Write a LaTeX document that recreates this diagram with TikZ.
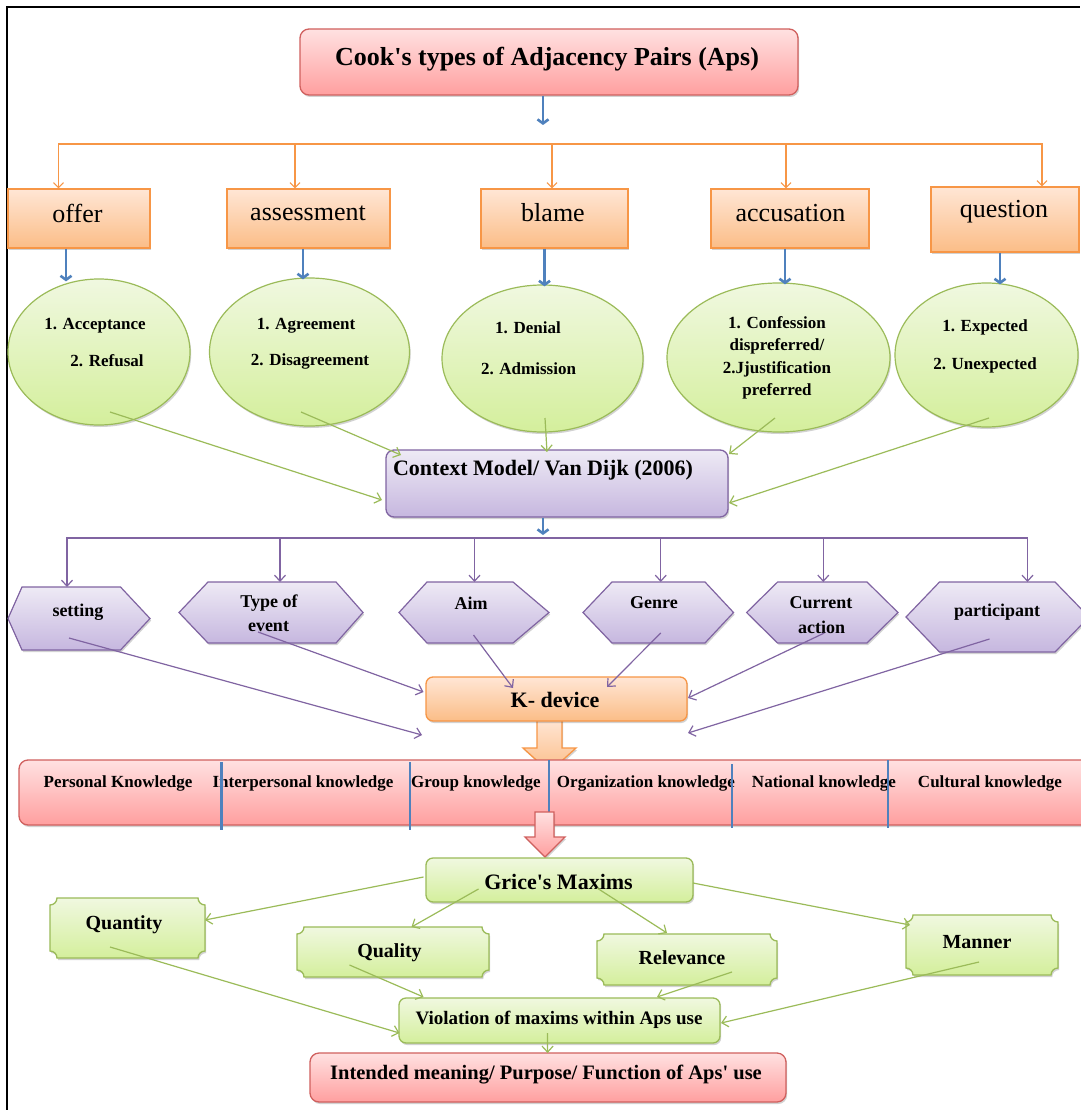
\documentclass[tikz,border=0pt]{standalone}
\usepackage{fontspec}
\setmainfont{Liberation Serif}
\usetikzlibrary{arrows.meta,shapes.geometric,shadows,calc}
\definecolor{pinkT}{HTML}{FFE1E1}
\definecolor{pinkB}{HTML}{FF9F9F}
\definecolor{pinkL}{HTML}{D0605E}
\definecolor{oraT}{HTML}{FFE6D5}
\definecolor{oraB}{HTML}{FBBD87}
\definecolor{oraL}{HTML}{F79646}
\definecolor{grnT}{HTML}{F0F8E0}
\definecolor{grnB}{HTML}{D4EF9C}
\definecolor{grnL}{HTML}{9BBB59}
\definecolor{purT}{HTML}{EEEAF5}
\definecolor{purB}{HTML}{C6B7DF}
\definecolor{purL}{HTML}{8064A2}
\definecolor{bluL}{HTML}{4F81BD}
\tikzset{
 shad/.style={drop shadow={shadow xshift=1.2pt,shadow yshift=-2pt,opacity=0.25,fill=black!70}},
 pinkbox/.style={rounded corners=9pt,draw=pinkL,line width=1.3pt,top color=pinkT,bottom color=pinkB,shad,inner sep=0},
 orabox/.style={draw=oraL,line width=1.3pt,top color=oraT,bottom color=oraB,shad,inner sep=0},
 orarbox/.style={orabox,rounded corners=7pt},
 grnell/.style={ellipse,draw=grnL,line width=1.2pt,top color=grnT,bottom color=grnB,shad,inner sep=0},
 grnbox/.style={rounded corners=7pt,draw=grnL,line width=1.3pt,top color=grnT,bottom color=grnB,shad,inner sep=0},
 grnplaq/.style={draw=grnL,line width=1.3pt,top color=grnT,bottom color=grnB,shad},
 purbox/.style={rounded corners=8pt,draw=purL,line width=1.3pt,top color=purT,bottom color=purB,shad,inner sep=0},
 purhex/.style={draw=purL,line width=1.2pt,top color=purT,bottom color=purB,shad},
 garr/.style={draw=grnL,line width=1.2pt,-{Straight Barb[length=6pt,width=11pt]}},
 parr/.style={draw=purL,line width=1.2pt,-{Straight Barb[length=6pt,width=11pt]}},
 oarr/.style={draw=oraL,line width=1.1pt,-{Straight Barb[length=5pt,width=10pt]}},
 barr/.style={draw=bluL,line width=2.6pt,-{Straight Barb[length=4pt,width=11pt]}},
 bdiv/.style={draw=bluL,line width=2.2pt},
 anc/.style={inner sep=0,outer sep=0},
 ttl/.style={inner sep=0,font=\fontsize{26}{30}\selectfont\bfseries},
 otx/.style={inner sep=0,font=\fontsize{26}{30}\selectfont},
 etx/.style={inner sep=0,font=\fontsize{17}{20}\selectfont\bfseries},
 htx/.style={inner sep=0,font=\fontsize{18}{21}\selectfont\bfseries},
 ktx/.style={inner sep=0,font=\fontsize{17}{20}\selectfont\bfseries},
 mtx/.style={inner sep=0,font=\fontsize{20}{24}\selectfont\bfseries},
 btx/.style={inner sep=0,font=\fontsize{22}{26}\selectfont\bfseries},
}
\newcommand\hexa[7]{%
 \draw[purhex] (#2,{-(#6+#7)/2}) -- (#3,-#6) -- (#4,-#6) -- (#5,{-(#6+#7)/2}) -- (#4,-#7) -- (#3,-#7) -- cycle;
 \node[anc,minimum width={#5-#2},minimum height={#7-#6}] (#1) at ({(#2+#5)/2},{-(#6+#7)/2}) {};
}
\newcommand\plaq[5]{%
 \draw[grnplaq] ({#2+7},-#3) -- ({#4-7},-#3) arc[start angle=180,end angle=270,radius=7]
  -- (#4,{-#5+7}) arc[start angle=90,end angle=180,radius=7]
  -- ({#2+7},-#5) arc[start angle=0,end angle=90,radius=7]
  -- (#2,{-#3-7}) arc[start angle=270,end angle=360,radius=7] -- cycle;
 \node[anc,minimum width={#4-#2},minimum height={#5-#3}] (#1) at ({(#2+#4)/2},{-(#3+#5)/2}) {};
}
\begin{document}
\begin{tikzpicture}[x=1pt,y=1pt]
\useasboundingbox (0,0) rectangle (1080,-1110);
\fill[white] (0,0) rectangle (1080,-1110);
\draw[line width=2pt] (7,-1110) -- (7,-7.5) -- (1080,-7.5);

% ---- title and first level
\node[pinkbox,minimum width=498,minimum height=66] (title) at (549,-62) {};
\node[ttl] (titlet) at (547,-59) {Cook\textquotesingle s types of Adjacency Pairs (Aps)};
\coordinate (tarr) at (543,-125);
\draw[barr] ([xshift=-6pt]title.south) -- (tarr);

\node[orabox,minimum width=142,minimum height=59] (offer) at (79,-218.5) {};
\node[orabox,minimum width=163,minimum height=59] (assess) at (308.5,-218.5) {};
\node[orabox,minimum width=147,minimum height=59] (blame) at (554.5,-218.5) {};
\node[orabox,minimum width=158,minimum height=59] (accus) at (790,-218.5) {};
\node[orabox,minimum width=148,minimum height=65] (quest) at (1005,-219.5) {};
\node[otx] (offert) at (77.5,-213) {offer};
\node[otx] (assesst) at (308,-213) {assessment};
\node[otx] (blamet) at (553,-213) {blame};
\node[otx] (accust) at (790.5,-213) {accusation};
\node[otx] (questt) at (1004,-212) {question};

\coordinate (obus) at (550,-144);
\draw[oarr] (obus) -| ([xshift=-20.5pt]offer.north);
\draw[oarr] (obus) -| ([xshift=-13.5pt]assess.north);
\draw[oarr] (obus) -| ([xshift=-2.5pt]blame.north);
\draw[oarr] (obus) -| ([xshift=-4pt]accus.north);
\draw[oarr] (obus) -| ([xshift=37pt]quest.north);

% ---- ellipses
\node[grnell,minimum width=182,minimum height=146] (e1) at (99,-352) {};
\node[grnell,minimum width=200,minimum height=148] (e2) at (309.5,-352) {};
\node[grnell,minimum width=201,minimum height=147] (e3) at (542.5,-358.5) {};
\node[grnell,minimum width=223,minimum height=149] (e4) at (778.5,-357.5) {};
\node[grnell,minimum width=183,minimum height=144] (e5) at (986.5,-355) {};

\draw[barr] ([xshift=-13pt]offer.south) -- ([xshift=-33pt,yshift=-3pt]e1.north);
\draw[barr] ([xshift=-5.5pt]assess.south) -- ([xshift=-6.5pt,yshift=-2pt]e2.north);
\draw[barr] ([xshift=-10pt]blame.south) -- ([xshift=2pt,yshift=-2pt]e3.north);
\draw[barr] ([xshift=-5pt]accus.south) -- ([xshift=6.5pt,yshift=-2pt]e4.north);
\draw[barr] ([xshift=-5pt]quest.south) -- ([xshift=13.5pt,yshift=-2pt]e5.north);

\node[etx] (e1a) at (95,-326) {1. Acceptance};
\node[etx] (e1b) at (107,-361) {2. Refusal};
\node[etx] (e2a) at (306,-326) {1. Agreement};
\node[etx] (e2b) at (310,-361) {2. Disagreement};
\node[etx] (e3a) at (528,-328) {1. Denial};
\node[etx] (e3b) at (528.5,-369) {2. Admission};
\node[etx] (e4a) at (777,-323) {1. Confession};
\node[etx] (e4b) at (777,-346) {dispreferred/};
\node[etx] (e4c) at (777,-369) {2.Jjustification};
\node[etx] (e4d) at (777,-391) {preferred};
\node[etx] (e5a) at (985,-327) {1. Expected};
\node[etx] (e5b) at (985,-365) {2. Unexpected};

% ---- context model
\node[purbox,minimum width=342,minimum height=67] (cm) at (557,-483.5) {};
\node[btx] (cmt) at (543,-470) {Context Model/ Van Dijk (2006)};

\draw[garr] ($(e1)+(11,-60)$) -- ($(cm)+(-175,-16.5)$);
\draw[garr] ($(e2)+(-8.5,-60)$) -- ($(cm)+(-156,28.5)$);
\draw[garr] ($(e3)+(2.5,-59.5)$) -- ($(cm)+(-10,31.5)$);
\draw[garr] ($(e4)+(-3.5,-60.5)$) -- ($(cm)+(172,29.5)$);
\draw[garr] ($(e5)+(2.5,-63)$) -- ($(cm)+(172,-19.5)$);

\coordinate (pbus) at (543,-538);
\draw[barr] ([xshift=-14pt]cm.south) -- ([yshift=3pt]pbus);

% ---- hexagons
\hexa{setting}{8}{22}{120.5}{150}{587}{650}
\hexa{typeev}{179}{208}{336}{363}{582}{643}
\hexa{aim}{399}{427}{513}{549}{582}{643}
\hexa{genre}{583}{612}{705}{733.5}{582}{643}
\hexa{current}{746.6}{777.6}{867}{898}{582}{643}
\hexa{particip}{906}{939.5}{1055}{1089}{582}{652}

\draw[parr] (pbus) -| ([xshift=-12pt]setting.north);
\draw[parr] (pbus) -| ([xshift=9pt]typeev.north);
\draw[parr] (pbus) -| ([xshift=0.5pt]aim.north);
\draw[parr] (pbus) -| ([xshift=2.5pt]genre.north);
\draw[parr] (pbus) -| ([xshift=1pt]current.north);
\draw[parr] (pbus) -| ([xshift=30pt]particip.north);

\node[htx] (settingt) at (78,-612) {setting};
\node[htx] (typeevt) at (269,-603) {Type of};
\node[htx] (typeevt2) at (268.5,-627) {event};
\node[htx] (aimt) at (471,-603) {Aim};
\node[htx] (genret) at (654,-603) {Genre};
\node[htx] (currentt) at (821,-603) {Current};
\node[htx] (currentt2) at (821.5,-627) {action};
\node[htx] (participt) at (997,-612) {participant};

% ---- K-device and knowledge bar
\draw[orabox] (537,-719) -- (562,-719) -- (562,-748) -- (576,-748) -- (549.5,-772) -- (523,-748) -- (537,-748) -- cycle;
\node[orarbox,minimum width=261,minimum height=44] (kdev) at (556.5,-699) {};
\node[btx] (kdevt) at (555,-700) {K- device};

\draw[parr] ($(setting)+(-10,-19.5)$) -- ($(kdev)+(-134.5,-36)$);
\draw[parr] ($(typeev)+(-13,-19.5)$) -- ($(kdev)+(-133,7)$);
\draw[parr] ($(aim)+(-0.5,-22.5)$) -- ($(kdev)+(-43.5,11)$);
\draw[parr] ($(genre)+(2.5,-20.5)$) -- ($(kdev)+(50.5,12)$);
\draw[parr] ($(current)+(2,-20.5)$) -- ($(kdev)+(131.5,1)$);
\draw[parr] ($(particip)+(-8,-22)$) -- ($(kdev)+(131.5,-34)$);

\node[pinkbox,minimum width=1080,minimum height=65] (bar) at (559,-792.5) {};
\node[ktx] (k1) at (118,-783) {Personal Knowledge};
\node[ktx] (k2) at (303,-783) {Interpersonal knowledge};
\node[ktx] (k3) at (476,-783) {Group knowledge};
\node[ktx] (k4) at (646,-783) {Organization knowledge};
\node[ktx] (k5) at (824,-783) {National knowledge};
\node[ktx] (k6) at (990,-783) {Cultural knowledge};
\draw[bdiv] (221.4,-762) -- (221.4,-830);
\draw[bdiv] (410,-762) -- (410,-830);
\draw[bdiv] (549,-760) -- (549,-812);
\draw[bdiv] (732,-764) -- (732,-828);
\draw[bdiv] (888,-760) -- (888,-828);

\draw[pinkbox,rounded corners=0pt] (535,-812) -- (554,-812) -- (554,-837) -- (565,-837) -- (545,-857) -- (525,-837) -- (535,-837) -- cycle;

% ---- Grice
\node[grnbox,minimum width=267,minimum height=44] (grice) at (559.5,-880) {};
\node[btx] (gricet) at (558.5,-882) {Grice\textquotesingle s Maxims};
\plaq{quantity}{50}{898}{205}{958}
\plaq{quality}{297}{927}{489}{977}
\plaq{relevance}{597}{934}{777}{985}
\plaq{manner}{906}{915}{1058}{975}
\node[mtx] (quantityt) at (124,-925) {Quantity};
\node[mtx] (qualityt) at (389.5,-953) {Quality};
\node[mtx] (relevancet) at (682,-958) {Relevance};
\node[mtx] (mannert) at (977,-942) {Manner};

\node[grnbox,minimum width=321,minimum height=45] (viol) at (559.5,-1020.5) {};
\node[font=\fontsize{19}{23}\selectfont\bfseries,inner sep=0] (violt) at (559,-1020) {Violation of maxims within Aps use};
\node[pinkbox,minimum width=476,minimum height=49] (intended) at (548,-1077.5) {};
\node[font=\fontsize{20.5}{24}\selectfont\bfseries,inner sep=0] (intendedt) at (546,-1075) {Intended meaning/ Purpose/ Function of Aps\textquotesingle{} use};

\draw[garr] ($(grice)+(-136,3)$) -- ($(quantity)+(77.5,8)$);
\draw[garr] ($(grice)+(-81,-9)$) -- ($(quality)+(18.5,25)$);
\draw[garr] ($(grice)+(37.5,-8)$) -- ($(relevance)+(-20,26.5)$);
\draw[garr] ($(grice)+(133.5,-3)$) -- ($(manner)+(-72,20)$);
\draw[garr] ($(quantity)+(-17.5,-19)$) -- ($(viol)+(-160,-12.5)$);
\draw[garr] ($(quality)+(-43.5,-13)$) -- ($(viol)+(-136,23.5)$);
\draw[garr] ($(relevance)+(45,-12.5)$) -- ($(viol)+(97.5,23.5)$);
\draw[garr] ($(manner)+(-3,-17)$) -- ($(viol)+(161.5,-2.5)$);
\draw[garr] ($(viol)+(-12,-12.5)$) -- ($(intended)+(-0.4,24.5)$);
\end{tikzpicture}
\end{document}
